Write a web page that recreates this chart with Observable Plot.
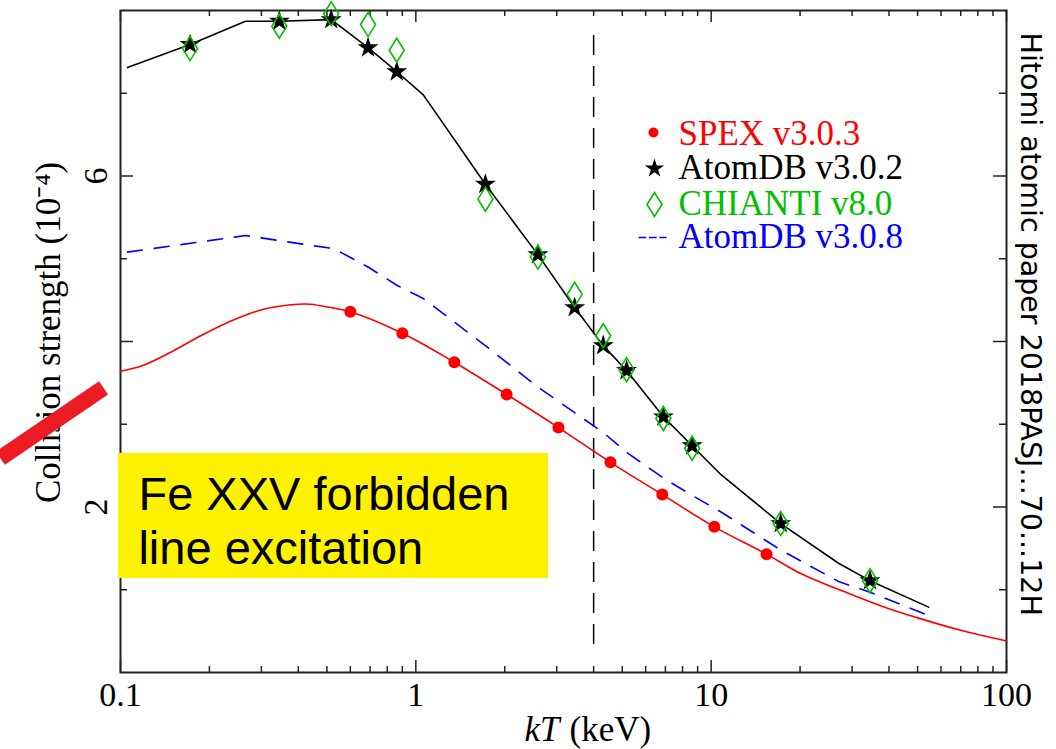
<!DOCTYPE html>
<html><head><meta charset="utf-8">
<script src="https://cdn.jsdelivr.net/npm/d3@7"></script>
<script src="https://cdn.jsdelivr.net/npm/@observablehq/plot@0.6"></script>
<style>body{margin:0;background:#fff}</style>
</head><body><div id="chart"></div>
<script>
// ---- data ----
// AtomDB v3.0.2 stars & CHIANTI v8.0 diamonds (kT grid, keV)
const kTStars = [0.172, 0.345, 0.517, 0.689, 0.862, 1.72, 2.59, 3.45, 4.31, 5.17, 6.89, 8.62, 17.2, 34.5];
const atomdb302Stars = [7.59, 7.87, 7.89, 7.55, 7.26, 5.90, 5.05, 4.41, 3.95, 3.65, 3.09, 2.74, 1.80, 1.11];
const chiantiVals = [7.54, 7.81, 7.96, 7.83, 7.52, 5.72, 5.02, 4.57, 4.07, 3.66, 3.07, 2.71, 1.80, 1.11];
// AtomDB v3.0.2 line
const kTLine302 = [0.1056, 0.172, 0.265, 0.345, 0.517, 0.689, 0.862, 1.06, 1.72, 2.59, 3.45, 4.31, 5.17, 6.89, 8.62, 10.8, 17.2, 27, 34.5, 54.5];
const atomdb302Line = [7.31, 7.59, 7.87, 7.87, 7.89, 7.55, 7.26, 6.98, 5.90, 5.05, 4.41, 3.95, 3.65, 3.09, 2.74, 2.39, 1.80, 1.32, 1.11, 0.79];
// AtomDB v3.0.8 dashed line
const kTLine308 = [0.1056, 0.265, 0.53, 0.689, 0.862, 1.06, 1.72, 2.59, 3.45, 4.31, 5.17, 6.89, 8.62, 10.8, 17.2, 27, 34.5, 54.5];
const atomdb308Line = [5.08, 5.28, 5.12, 4.90, 4.68, 4.52, 3.95, 3.45, 3.14, 2.90, 2.66, 2.35, 2.14, 1.94, 1.48, 1.10, 0.97, 0.69];
// SPEX v3.0.3 curve and dots
const kTSpexCurve = [0.1, 0.119, 0.148, 0.187, 0.249, 0.305, 0.4, 0.44, 0.515, 0.6, 0.9, 1.35, 2.03, 3.04, 4.56, 6.83, 10.25, 15.4, 20, 30, 40, 50, 70, 100];
const spexCurve = [3.64, 3.71, 3.87, 4.07, 4.28, 4.39, 4.45, 4.45, 4.41, 4.36, 4.10, 3.75, 3.36, 2.96, 2.54, 2.15, 1.76, 1.43, 1.20, 0.94, 0.77, 0.66, 0.51, 0.38];
const kTSpexDots = [0.6, 0.9, 1.35, 2.03, 3.04, 4.56, 6.83, 10.25, 15.4];
const spexDots = [4.36, 4.10, 3.75, 3.36, 2.96, 2.54, 2.15, 1.76, 1.43];
// reference line
const kTMarker = [4];
// ticks
const xMajor = [0.1, 1, 10, 100];
const xMinor = [0.2,0.3,0.4,0.5,0.6,0.7,0.8,0.9, 2,3,4,5,6,7,8,9, 20,30,40,50,60,70,80,90];
const xTickLabels = ["0.1", "1", "10", "100"];
const yMajor = [2, 4, 6];
const yMinor = [1, 3, 5, 7];
const yTickLabels = [2, 6];
// annotations
const legendLabels = ["SPEX v3.0.3", "AtomDB v3.0.2", "CHIANTI v8.0", "AtomDB v3.0.8"];
const noteBox = [{x1: 0.0985, x2: 2.814, y1: 1.136, y2: 2.647}];
const noteText = ["Fe XXV forbidden\nline excitation"];
const noteAt = [{x: 0.115, y: 1.85}];
const pointer = [{x1: 0.0392, y1: 2.59, x2: 0.0876, y2: 3.44}];
const sideNote = ["Hitomi atomic paper 2018PASJ...70...12H"];

// ---- build tables ----
const stars = kTStars.map((k, i) => ({kT: k, v: atomdb302Stars[i]}));
const chianti = kTStars.map((k, i) => ({kT: k, v: chiantiVals[i]}));
const line302 = kTLine302.map((k, i) => ({kT: k, v: atomdb302Line[i]}));
const line308 = kTLine308.map((k, i) => ({kT: k, v: atomdb308Line[i]}));
const spexC = kTSpexCurve.map((k, i) => ({kT: k, v: spexCurve[i]}));
const spexD = kTSpexDots.map((k, i) => ({kT: k, v: spexDots[i]}));

const RED = "#ff0000", GREEN = "#00c000", BLUE = "#0000ff";
const SERIF = "Liberation Serif";
const legColors = [RED, "black", GREEN, BLUE];

const tallDiamond = {draw(ctx, size) {
  const r = Math.sqrt(size / Math.PI);
  ctx.moveTo(0, -1.6 * r); ctx.lineTo(r, 0); ctx.lineTo(0, 1.6 * r); ctx.lineTo(-r, 0); ctx.closePath();
}};
const dashSym = {draw(ctx, size) {
  const r = Math.sqrt(size / Math.PI);
  ctx.moveTo(-r, 0); ctx.lineTo(-0.45 * r, 0);
  ctx.moveTo(-0.25 * r, 0); ctx.lineTo(0.3 * r, 0);
  ctx.moveTo(0.5 * r, 0); ctx.lineTo(r, 0);
}};

const W = 1056, H = 749, mL = 120, mR = 50, mT = 10, mB = 77;
const ph = H - mT - mB, pw = W - mL - mR;
const legX = 653 - mL, legTextX = 678 - mL;
const legRows = [132, 168, 204, 237].map(v => v - mT);
const legTextRows = [133, 167, 203, 236].map(v => v - mT);

const chart = Plot.plot({
  width: W, height: H,
  marginLeft: mL, marginRight: mR, marginTop: mT, marginBottom: mB,
  style: {fontFamily: SERIF, fontSize: "34px", background: "white", overflow: "visible"},
  x: {type: "log", domain: [0.1, 100], axis: null},
  y: {domain: [0, 8], axis: null},
  marks: [
    // reference dashed line
    Plot.ruleX(kTMarker, {x: d => d, stroke: "black", strokeWidth: 1.5, strokeDasharray: "20,11", insetTop: 25, insetBottom: 25}),
    // ticks (inward)
    Plot.tickX(xMajor, {x: d => d, stroke: "#222", strokeWidth: 1.5, insetTop: ph - 12}),
    Plot.tickX(xMinor, {x: d => d, stroke: "#222", strokeWidth: 1.5, insetTop: ph - 6}),
    Plot.tickX(xMajor, {x: d => d, stroke: "#222", strokeWidth: 1.5, insetBottom: ph - 12}),
    Plot.tickX(xMinor, {x: d => d, stroke: "#222", strokeWidth: 1.5, insetBottom: ph - 6}),
    Plot.tickY(yMajor, {y: d => d, stroke: "#222", strokeWidth: 1.5, insetRight: pw - 13}),
    Plot.tickY(yMinor, {y: d => d, stroke: "#222", strokeWidth: 1.5, insetRight: pw - 7}),
    Plot.tickY(yMajor, {y: d => d, stroke: "#222", strokeWidth: 1.5, insetLeft: pw - 13}),
    Plot.tickY(yMinor, {y: d => d, stroke: "#222", strokeWidth: 1.5, insetLeft: pw - 7}),
    Plot.frame({stroke: "#222", strokeWidth: 2}),
    // tick labels
    Plot.text(xMajor, {x: d => d, text: (d, i) => xTickLabels[i], frameAnchor: "bottom", dy: 23, lineAnchor: "middle", fontSize: 34, fill: "black"}),
    Plot.text(yTickLabels, {y: d => d, text: d => String(d), frameAnchor: "left", dx: -24, rotate: -90, textAnchor: "middle", lineAnchor: "middle", fontSize: 34, fill: "black"}),
    // axis labels
    Plot.text(["Collision strength (10\u207B\u2074)"], {frameAnchor: "left", dx: -72, dy: -9, rotate: -90, textAnchor: "middle", lineAnchor: "middle", fontSize: 35, fill: "black"}),
    Plot.text(["kT"], {frameAnchor: "bottom", dx: -4, dy: 57, textAnchor: "end", lineAnchor: "middle", fontStyle: "italic", fontSize: 35, fill: "black"}),
    Plot.text(["(keV)"], {frameAnchor: "bottom", dx: 6, dy: 57, textAnchor: "start", lineAnchor: "middle", fontSize: 35, fill: "black"}),
    // data lines
    Plot.line(spexC, {x: "kT", y: "v", stroke: RED, strokeWidth: 1.6, curve: "catmull-rom"}),
    Plot.line(line308, {x: "kT", y: "v", stroke: BLUE, strokeWidth: 1.6, strokeDasharray: "15,12"}),
    Plot.line(line302, {x: "kT", y: "v", stroke: "black", strokeWidth: 1.6}),
    // markers
    Plot.dot(spexD, {x: "kT", y: "v", r: 6, fill: RED, stroke: "none"}),
    Plot.dot(stars, {x: "kT", y: "v", r: 6.6, symbol: d3.symbolStar, fill: "black", stroke: "none"}),
    Plot.dot(chianti, {x: "kT", y: "v", r: 7.5, symbol: tallDiamond, fill: "none", stroke: GREEN, strokeWidth: 1.6}),
    // legend
    Plot.dot([0], {frameAnchor: "top-left", dx: legX, dy: legRows[0], r: 5, fill: RED, stroke: "none"}),
    Plot.dot([0], {frameAnchor: "top-left", dx: legX + 1, dy: legRows[1], r: 6, symbol: d3.symbolStar, fill: "black", stroke: "none"}),
    Plot.dot([0], {frameAnchor: "top-left", dx: legX + 1, dy: legRows[2], r: 7.5, symbol: tallDiamond, fill: "none", stroke: GREEN, strokeWidth: 1.6}),
    Plot.dot([0], {frameAnchor: "top-left", dx: legX - 1, dy: legRows[3], r: 14, symbol: dashSym, fill: "none", stroke: BLUE, strokeWidth: 1.6}),
    ...legendLabels.map((lab, i) => Plot.text([lab], {frameAnchor: "top-left", dx: legTextX, dy: legTextRows[i], textAnchor: "start", lineAnchor: "middle", fontSize: 35, fill: legColors[i]})),
    // annotations
    Plot.rect(noteBox, {x1: "x1", x2: "x2", y1: "y1", y2: "y2", fill: "#fff200"}),
    Plot.text(noteAt, {x: "x", y: "y", text: (d, i) => noteText[i], textAnchor: "start", lineAnchor: "middle", lineHeight: 1.15, fontFamily: "Liberation Sans", fontSize: 47, fill: "black"}),
    Plot.link(pointer, {x1: "x1", y1: "y1", x2: "x2", y2: "y2", stroke: "#ed1c24", strokeWidth: 16, strokeLinecap: "butt"}),
    Plot.text(sideNote, {frameAnchor: "top-right", dx: 24, dy: 22, rotate: 90, textAnchor: "start", lineAnchor: "middle", fontFamily: "DejaVu Sans", fontSize: 28.5, fill: "black"})
  ]
});
document.getElementById("chart").appendChild(chart);
</script></body></html>
